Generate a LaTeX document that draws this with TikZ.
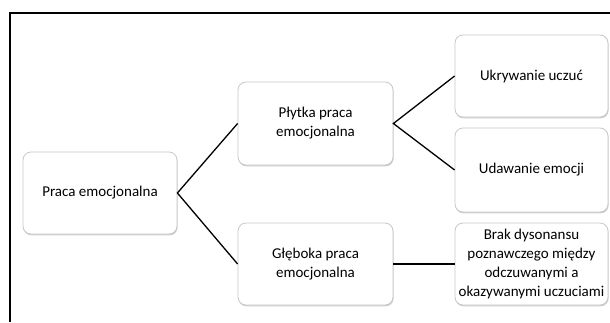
\documentclass[tikz,border=0pt]{standalone}
\usepackage{fontspec}
\setmainfont{Carlito}
\usetikzlibrary{shadows}
\begin{document}
\begin{tikzpicture}[x=1pt,y=-1pt,
  box/.style={draw=black!22, line width=0.8pt, fill=white, rounded corners=8pt,
    align=center, inner sep=0pt,
    font=\fontsize{15}{19}\selectfont,
    drop shadow={shadow xshift=0.6pt, shadow yshift=-1.4pt, fill=black!30, opacity=0.6}},
  link/.style={draw=black, line width=1.3pt}]
\useasboundingbox (0,0) rectangle (610,322);
\fill[white] (0,0) rectangle (610,322);
\coordinate (fl) at (10,322);
\coordinate (fc) at (10,13);
\coordinate (fr) at (610,13);
\draw[line width=1.5pt] (fl) -- (fc) -- (fr);
\node[box, minimum width=154pt, minimum height=82pt] (a) at (100,193) {Praca emocjonalna};
\node[box, minimum width=155pt, minimum height=83pt] (b) at (315.5,123.5) {Płytka praca\\emocjonalna};
\node[box, minimum width=155pt, minimum height=82pt] (c) at (315.5,264) {Głęboka praca\\emocjonalna};
\node[box, minimum width=153pt, minimum height=82pt] (d) at (531.5,76) {Ukrywanie uczuć};
\node[box, minimum width=153pt, minimum height=84pt] (e) at (531.5,170) {Udawanie emocji};
\node[box, minimum width=153pt, minimum height=82pt] (f) at (531.5,264) {Brak dysonansu\\poznawczego między\\odczuwanymi a\\okazywanymi uczuciami};
\draw[link] (b.west) -- (a.east) -- (c.west);
\draw[link] (d.west) -- (b.east) -- (e.west);
\draw[link] (c.east) -- (f.west);
\end{tikzpicture}
\end{document}
